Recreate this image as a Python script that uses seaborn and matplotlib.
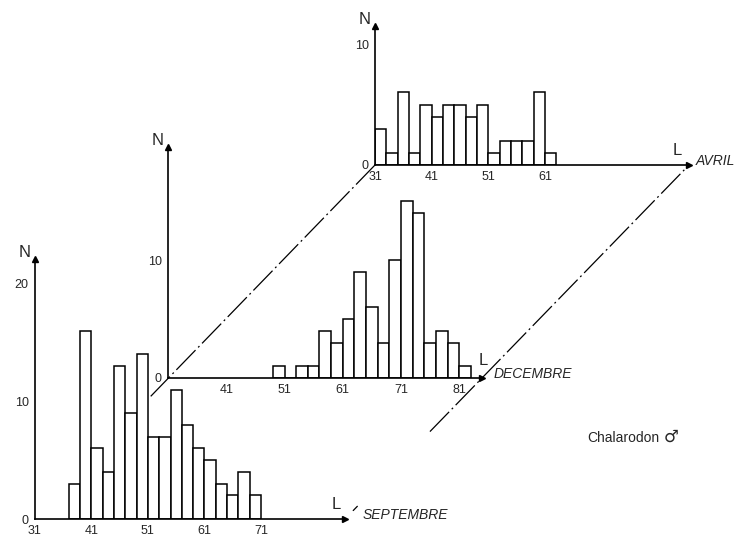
import numpy as np
import matplotlib
matplotlib.use("Agg")
import matplotlib.pyplot as plt
from matplotlib.lines import Line2D
from matplotlib.ticker import MultipleLocator
import seaborn as sns

# Length classes (bin centres, 2 mm wide) and counts for each season
sep_centers = [38, 40, 42, 44, 46, 48, 50, 52, 54, 56, 58, 60, 62, 64, 66, 68, 70]
sep_counts = [3, 16, 6, 4, 13, 9, 14, 7, 7, 11, 8, 6, 5, 3, 2, 4, 2]

dec_centers = [50, 52, 54, 56, 58, 60, 62, 64, 66, 68, 70, 72, 74, 76, 78, 80, 82]
dec_counts = [1, 0, 1, 1, 4, 3, 5, 9, 6, 3, 10, 15, 14, 3, 4, 3, 1]

avr_centers = [32, 34, 36, 38, 40, 42, 44, 46, 48, 50, 52, 54, 56, 58, 60, 62]
avr_counts = [3, 1, 6, 1, 5, 4, 5, 5, 4, 5, 1, 2, 2, 2, 6, 1]

sep_xticks = [31, 41, 51, 61, 71]
dec_xticks = [41, 51, 61, 71, 81]
avr_xticks = [31, 41, 51, 61]
sep_yticks = [0, 10, 20]
dec_yticks = [0, 10]
avr_yticks = [0, 10]

months = ["SEPTEMBRE", "DECEMBRE", "AVRIL"]
species = "Chalarodon"
sex_sign = "\u2642"

sns.set_style("white")
plt.rcParams["font.family"] = ["Liberation Sans", "DejaVu Sans"]

W, H = 739, 536
fig = plt.figure(figsize=(W / 100, H / 100), dpi=100)
fig.patch.set_facecolor("white")


def panel(origin, size, xlim, ylim, zorder):
    """Axes placed by its origin (pixel, y from top) and size in pixels."""
    x0, y0 = origin
    w, h = size
    ax = fig.add_axes([x0 / W, 1 - y0 / H, w / W, h / H])
    ax.set_zorder(zorder)
    ax.patch.set_alpha(0)
    ax.set_xlim(*xlim)
    ax.set_ylim(*ylim)
    return ax


def draw(ax, centers, counts, xticks, yticks, month, month_dx, l_pos):
    sns.histplot(x=centers, weights=counts, binwidth=2,
                 binrange=(centers[0] - 1, centers[-1] + 1),
                 color="white", edgecolor="black", linewidth=1.1,
                 alpha=1, ax=ax)
    ax.set_xlabel("")
    ax.set_ylabel("")
    for s in ("top", "right"):
        ax.spines[s].set_visible(False)
    for s in ("left", "bottom"):
        ax.spines[s].set_linewidth(1.2)
        ax.spines[s].set_color("black")
    ax.set_xticks(xticks)
    ax.set_yticks(yticks)
    ax.xaxis.set_minor_locator(MultipleLocator(2))
    ax.yaxis.set_minor_locator(MultipleLocator(2))
    ax.tick_params(which="both", direction="out", color="black", width=0.9)
    ax.tick_params(which="major", length=2.5, labelsize=9, pad=2)
    ax.tick_params(which="minor", length=1.8)
    # arrow heads at the end of each axis
    ax.plot(1, 0, ">", ms=5, color="black", transform=ax.transAxes, clip_on=False)
    ax.plot(0, 1, "^", ms=4, color="black", transform=ax.transAxes, clip_on=False)
    ax.annotate("N", xy=(0, 1), xycoords="axes fraction", xytext=(-3, -1),
                textcoords="offset points", ha="right", va="bottom", fontsize=12)
    ldx, ldy, lha = l_pos
    ax.annotate("L", xy=(1, 0), xycoords="axes fraction", xytext=(ldx, ldy),
                textcoords="offset points", ha=lha, va="bottom", fontsize=12)
    ax.annotate(month, xy=(1, 0), xycoords="axes fraction", xytext=(month_dx, 3),
                textcoords="offset points", ha="left", va="center",
                fontsize=10, style="italic")


ax_avr = panel((375, 165), (314, 139), (31, 86.4), (0, 11.5), 1)
ax_dec = panel((168, 378), (314, 231), (31, 84.9), (0, 19.6), 2)
ax_sep = panel((35, 519), (310, 260), (31, 85.9), (0, 22.1), 3)

draw(ax_avr, avr_centers, avr_counts, avr_xticks, avr_yticks, months[2], 5,
     (-5, 5, "right"))
draw(ax_dec, dec_centers, dec_counts, dec_xticks, dec_yticks, months[1], 8,
     (1, 7, "center"))
draw(ax_sep, sep_centers, sep_counts, sep_xticks, sep_yticks, months[0], 13,
     (-3, 5, "right"))

fig.canvas.draw()
to_fig = fig.transFigure.inverted()


def origin_of(ax):
    return np.array(to_fig.transform(ax.transAxes.transform((0, 0))))


def tip_of(ax):
    return np.array(to_fig.transform(ax.transAxes.transform((1, 0))))


dash = dict(color="black", linewidth=0.9, linestyle=(0, (22, 3, 1.5, 3)),
            transform=fig.transFigure, zorder=2.5)

# perspective guides joining the three panels
o_sep, o_dec, o_avr = origin_of(ax_sep), origin_of(ax_dec), origin_of(ax_avr)
t_sep, t_dec, t_avr = tip_of(ax_sep), tip_of(ax_dec), tip_of(ax_avr)

start = o_dec + 0.13 * (o_sep - o_dec)
fig.add_artist(Line2D([start[0], o_avr[0]], [start[1], o_avr[1]], **dash))

start = t_dec + 0.38 * (t_sep - t_dec)
fig.add_artist(Line2D([start[0], t_avr[0]], [start[1], t_avr[1]], **dash))
a = t_sep + 0.06 * (t_dec - t_sep)
b = t_sep + 0.09 * (t_dec - t_sep)
fig.add_artist(Line2D([a[0], b[0]], [a[1], b[1]], color="black", linewidth=0.9,
                      transform=fig.transFigure, zorder=2.5))

fig.text(587 / W, 1 - 438 / H, species, fontsize=10, ha="left", va="center")
fig.text(664 / W, 1 - 437 / H, sex_sign, fontsize=12, ha="left", va="center",
         family=["DejaVu Sans"])

fig.savefig("out.png", dpi=100, facecolor="white")
